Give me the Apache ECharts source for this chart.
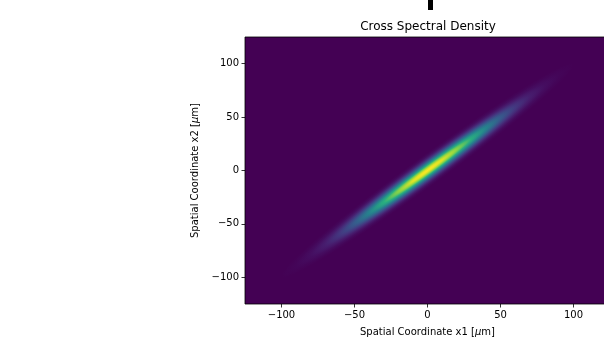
<!DOCTYPE html>
<html>
<head>
<meta charset="utf-8">
<script src="https://cdn.jsdelivr.net/npm/echarts@6/dist/echarts.min.js"></script>
<style>
  html, body { margin: 0; padding: 0; background: #fff; }
  #chart { width: 604px; height: 341px; }
</style>
</head>
<body>
<div id="chart"></div>
<script>
// tick labels of both axes (µm)
const tickValues = [-100, -50, 0, 50, 100]
// centre of the cross spectral density
const centre = [0, 0]
// profile read along the diagonal x1 = x2 (µm from the centre) and its normalised level
const alongPos = [0, 10, 20, 30, 40, 50, 60, 70, 80, 90, 100]
const alongLevel = [1.0, 0.95, 0.82, 0.62, 0.44, 0.28, 0.16, 0.08, 0.035, 0.012, 0.0]
// half width across the diagonal (x1 = -x2) of the outermost contour, µm
const acrossHalf = 8.5

// viridis anchors, 0 .. 1 in steps of 0.1
const viridis = ['#440154', '#482475', '#414487', '#355f8d', '#2a788e', '#21918c',
  '#22a884', '#44bf70', '#7ad151', '#bddf26', '#fde725']

function viridisColor(v) {
  v = Math.max(0, Math.min(1, v)) * 10
  const i = Math.min(9, Math.floor(v))
  const f = v - i
  const a = viridis[i], b = viridis[i + 1]
  const ch = k => {
    const x = parseInt(a.substr(k, 2), 16), y = parseInt(b.substr(k, 2), 16)
    return Math.round(x + (y - x) * f)
  }
  return 'rgb(' + ch(1) + ',' + ch(3) + ',' + ch(5) + ')'
}

const alongHalf = alongPos[alongPos.length - 1]
const stops = alongPos.map((p, i) => ({ offset: p / alongHalf, color: viridisColor(alongLevel[i]) }))

const font = 'DejaVu Sans'
const minus = v => String(v).replace('-', '\u2212')

const chart = echarts.init(document.getElementById('chart'))

chart.setOption({
  animation: false,
  backgroundColor: '#fff',
  title: {
    text: 'Cross Spectral Density',
    left: 423,
    textAlign: 'center',
    top: 16,
    textStyle: { fontFamily: font, fontSize: 12, fontWeight: 'normal', color: '#000' }
  },
  graphic: [
    { type: 'rect', shape: { x: 428, y: 0, width: 5, height: 10 }, style: { fill: '#000' } }
  ],
  grid: {
    left: 245, top: 37, width: 365, height: 267,
    outerBoundsMode: 'none', containLabel: false,
    show: true, backgroundColor: '#440154', borderColor: '#000', borderWidth: 0.8
  },
  xAxis: {
    type: 'value', min: -125, max: 125,
    name: 'Spatial Coordinate x1 [{i|μ}m]',
    nameLocation: 'middle', nameGap: 23,
    nameTextStyle: { fontFamily: font, fontSize: 10, color: '#000',
      rich: { i: { fontFamily: font, fontSize: 10, fontStyle: 'italic', color: '#000' } } },
    axisLine: { show: false, onZero: false },
    axisTick: { show: true, length: 3.5, customValues: tickValues, lineStyle: { color: '#000', width: 0.8 } },
    axisLabel: { customValues: tickValues, margin: 6, fontFamily: font, fontSize: 10, color: '#000', formatter: minus },
    splitLine: { show: false }
  },
  yAxis: {
    type: 'value', min: -125, max: 125,
    name: 'Spatial Coordinate x2 [{i|μ}m]',
    nameLocation: 'middle', nameGap: 32,
    nameTextStyle: { fontFamily: font, fontSize: 10, color: '#000',
      rich: { i: { fontFamily: font, fontSize: 10, fontStyle: 'italic', color: '#000' } } },
    axisLine: { show: false, onZero: false },
    axisTick: { show: true, length: 3.5, customValues: tickValues, lineStyle: { color: '#000', width: 0.8 } },
    axisLabel: { customValues: tickValues, margin: 6, fontFamily: font, fontSize: 10, color: '#000', formatter: minus },
    splitLine: { show: false }
  },
  series: [{
    type: 'custom',
    clip: true,
    data: [centre],
    renderItem: function (params, api) {
      const c = api.coord([api.value(0), api.value(1)])
      const p = api.coord([api.value(0) + alongHalf, api.value(1) + alongHalf])
      const q = api.coord([api.value(0) + acrossHalf, api.value(1) - acrossHalf])
      const ux = p[0] - c[0], uy = p[1] - c[1]
      const vx = q[0] - c[0], vy = q[1] - c[1]
      // principal axes of the ellipse spanned by u and v on screen
      const a = ux * ux + vx * vx, b = ux * uy + vx * vy, d = uy * uy + vy * vy
      const phi = 0.5 * Math.atan2(2 * b, a - d)
      const m = (a + d) / 2, r = Math.sqrt(((a - d) / 2) * ((a - d) / 2) + b * b)
      return {
        type: 'circle',
        x: c[0], y: c[1],
        scaleX: Math.sqrt(m + r), scaleY: Math.sqrt(Math.max(m - r, 0.01)),
        rotation: -phi,
        shape: { cx: 0, cy: 0, r: 1 },
        style: {
          fill: { type: 'radial', x: 0.5, y: 0.5, r: 0.5, colorStops: stops },
          stroke: null
        }
      }
    }
  }]
})
</script>
</body>
</html>
